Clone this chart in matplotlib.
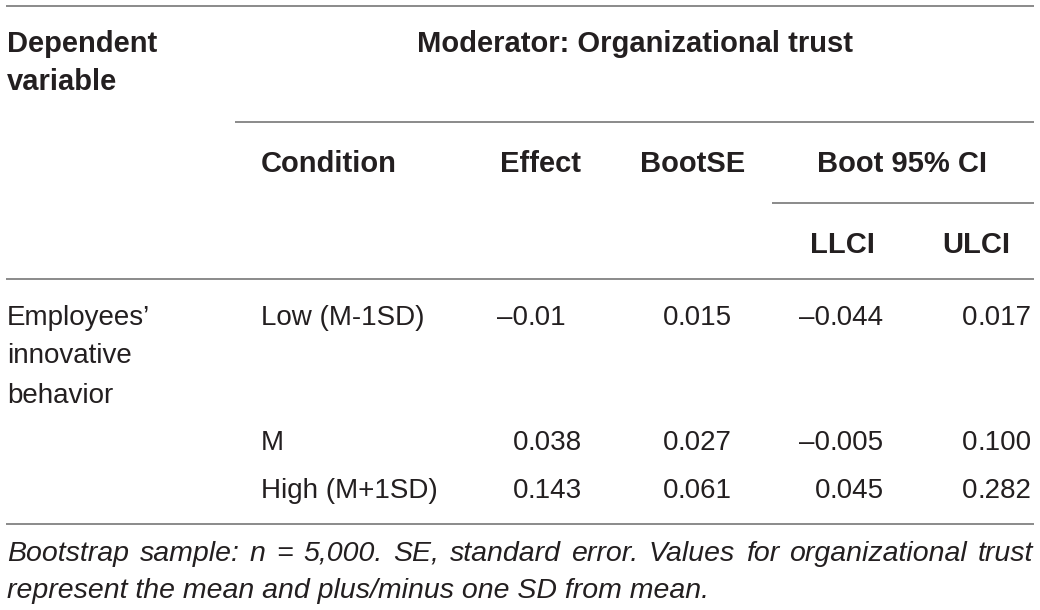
import matplotlib
matplotlib.use('Agg')
import matplotlib.pyplot as plt

plt.rcParams['font.family'] = ['Liberation Sans', 'DejaVu Sans']

# table content
dep_header = ['Dependent', 'variable']
moderator_header = 'Moderator: Organizational trust'
col_headers = ['Condition', 'Effect', 'BootSE', 'Boot 95% CI']
ci_headers = ['LLCI', 'ULCI']
dep_var = ['Employees\u2019', 'innovative', 'behavior']
conditions = ['Low (M-1SD)', 'M', 'High (M+1SD)']
effect = ['\u20130.01', '0.038', '0.143']
boot_se = ['0.015', '0.027', '0.061']
llci = ['\u20130.044', '\u20130.005', '0.045']
ulci = ['0.017', '0.100', '0.282']
footnote = ['Bootstrap sample: n = 5,000. SE, standard error. Values for organizational trust',
            'represent the mean and plus/minus one SD from mean.']

TXT = '#231f20'
LINE = '#8a8a8a'
FS = 20
FS_BOLD = 21
FS_NOTE = 20.5

fig = plt.figure(figsize=(10.4, 6.1), dpi=100)
ax = fig.add_axes([0, 0, 1, 1])
ax.set_xlim(0, 1040)
ax.set_ylim(610, 0)
ax.axis('off')

# rules
ax.hlines(6, 6, 1034, color=LINE, lw=1.4)
ax.hlines(122, 235, 1034, color=LINE, lw=1.4)
ax.hlines(203, 772, 1034, color=LINE, lw=1.4)
ax.hlines(279, 6, 1034, color=LINE, lw=1.4)
ax.hlines(524, 6, 1034, color=LINE, lw=1.4)

# header
for txt, y in zip(dep_header, [52, 90]):
    ax.text(7, y, txt, fontsize=FS_BOLD, fontweight='bold', color=TXT, va='baseline')
ax.text(635, 52, moderator_header, fontsize=FS_BOLD, fontweight='bold', color=TXT,
        va='baseline', ha='center')
for txt, x in zip(col_headers, [261, 500, 640, 817]):
    ax.text(x, 172, txt, fontsize=FS_BOLD, fontweight='bold', color=TXT, va='baseline')
for txt, x in zip(ci_headers, [810, 942]):
    ax.text(x, 253, txt, fontsize=FS_BOLD, fontweight='bold', color=TXT, va='baseline')

# body
for txt, y in zip(dep_var, [325, 363, 403]):
    ax.text(7, y, txt, fontsize=FS, color=TXT, va='baseline')

row_y = [325, 450, 498]
for txt, y in zip(conditions, row_y):
    ax.text(261, y, txt, fontsize=FS, color=TXT, va='baseline')

# numeric columns aligned on the decimal point
dec_x = [528, 678, 830, 977]
for col, dx in zip([effect, boot_se, llci, ulci], dec_x):
    for val, y in zip(col, row_y):
        whole, frac = val.split('.')
        ax.text(dx, y, whole, fontsize=FS, color=TXT, va='baseline', ha='right')
        ax.text(dx, y, '.' + frac, fontsize=FS, color=TXT, va='baseline', ha='left')

# footnote, first line justified
fig.canvas.draw()
renderer = fig.canvas.get_renderer()
words = footnote[0].split(' ')
objs = [ax.text(0, 561, w, fontsize=FS_NOTE, style='italic', color=TXT, va='baseline')
        for w in words]
widths = [o.get_window_extent(renderer).width for o in objs]
left, right = 7, 1033
gap = (right - left - sum(widths)) / (len(words) - 1)
x = left
for o, w in zip(objs, widths):
    o.set_x(x)
    x += w + gap
ax.text(7, 598, footnote[1], fontsize=FS_NOTE, style='italic', color=TXT, va='baseline')

fig.savefig('out.png', dpi=100)
